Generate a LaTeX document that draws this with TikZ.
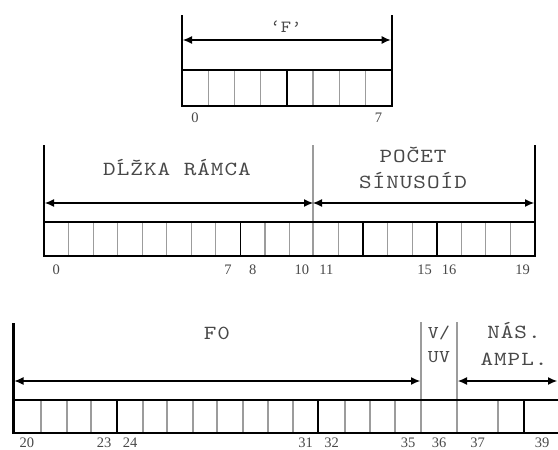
\documentclass[tikz,border=0pt]{standalone}
\usepackage{fontspec}
\usetikzlibrary{arrows.meta}
\newfontfamily\lmtt{lmmono10-regular.otf}[FakeStretch=1.2,LetterSpace=5]
\newfontfamily\lmttsm{lmmono10-regular.otf}[FakeStretch=1.15,LetterSpace=2]
\newfontfamily\numfont{Liberation Serif}
\definecolor{txt}{HTML}{484848}
\definecolor{sep}{HTML}{9C9C9C}
\tikzset{
  rowline/.style={line width=2pt,black},
  cellsep/.style={line width=1.1pt,sep},
  bytesep/.style={line width=1.8pt,black},
  edgeline/.style={line width=2.2pt,black},
  gsep/.style={line width=1.5pt,sep},
  dim/.style={line width=1.1pt,black,{Latex[length=9pt,width=8pt]}-{Latex[length=9pt,width=8pt]}},
  fld/.style={text=txt,inner sep=0pt,anchor=base,font=\lmtt\fontsize{20}{24}\selectfont},
  fldsm/.style={text=txt,inner sep=0pt,anchor=base,font=\lmttsm\fontsize{18}{22}\selectfont},
  num/.style={text=txt,inner sep=0pt,anchor=base,font=\numfont\fontsize{14.5}{15}\selectfont},
}
\begin{document}
\begin{tikzpicture}[x=1pt,y=-1pt]
\useasboundingbox (0,0) rectangle (558,450);
\clip (0,0) rectangle (558,450);
% ---------------- top row ----------------
\foreach \i in {1,2,3,5,6,7} \draw[cellsep] ({182+26.2*\i},70) -- ({182+26.2*\i},106);
\draw[bytesep] (286.8,70) -- (286.8,106);
\draw[rowline] (182,70) -- (391.6,70);
\draw[rowline] (182,106) -- (391.6,106);
\coordinate (tLt) at (182,15); \coordinate (tLb) at (182,107);
\coordinate (tRt) at (391.6,15); \coordinate (tRb) at (391.6,107);
\draw[edgeline] (tLt) -- (tLb);
\draw[edgeline] (tRt) -- (tRb);
\coordinate (tA1) at (183,40); \coordinate (tA2) at (390.6,40);
\draw[dim] (tA1) -- (tA2);
\node[fld,font=\lmttsm\fontsize{17}{20}\selectfont] (tF) at (286,32) {‘F’};
\node[num] (t0) at (195,122) {0};
\node[num] (t7) at (378.5,122) {7};
% ---------------- middle row ----------------
\foreach \i in {1,2,3,4,5,6,7,9,10,12,14,15,17,18,19} \draw[cellsep] ({44+24.55*\i},222) -- ({44+24.55*\i},256);
\foreach \i in {8,13,16} \draw[bytesep] ({44+24.55*\i},222) -- ({44+24.55*\i},256);
\coordinate (mSt) at (313,145); \coordinate (mSb) at (313,256);
\draw[gsep] (mSt) -- (mSb);
\draw[rowline] (44,222) -- (535,222);
\draw[rowline] (44,256) -- (535,256);
\coordinate (mLt) at (44,145); \coordinate (mLb) at (44,257);
\coordinate (mRt) at (535,145); \coordinate (mRb) at (535,257);
\draw[edgeline] (mLt) -- (mLb);
\draw[edgeline] (mRt) -- (mRb);
\coordinate (mA1) at (45,203); \coordinate (mA2) at (313,203); \coordinate (mA3) at (534,203);
\draw[dim] (mA1) -- (mA2);
\draw[dim] (mA2) -- (mA3);
\node[fld] (dl) at (177,175) {DĹŽKA RÁMCA};
\node[fld] (pc) at (413,162) {POČET};
\node[fld] (sn) at (413,188) {SÍNUSOÍD};
\node[num] (m0) at (56.3,274) {0};
\node[num] (m7) at (228.1,274) {7};
\node[num] (m8) at (252.7,274) {8};
\node[num] (m10) at (301.8,274) {10};
\node[num] (m11) at (326.3,274) {11};
\node[num] (m15) at (424.5,274) {15};
\node[num] (m16) at (449.1,274) {16};
\node[num] (m19) at (522.7,274) {19};
% ---------------- bottom row ----------------
\foreach \x in {41,67,91,143,167,193,217,243,268,293,345,370,395,498} \draw[cellsep] (\x,400) -- (\x,433);
\foreach \x in {117,318,524} \draw[bytesep] (\x,400) -- (\x,433);
\coordinate (bS1t) at (421,322); \coordinate (bS1b) at (421,433);
\coordinate (bS2t) at (457,322); \coordinate (bS2b) at (457,433);
\draw[gsep] (bS1t) -- (bS1b);
\draw[gsep] (bS2t) -- (bS2b);
\draw[rowline] (13,400) -- (560,400);
\draw[rowline] (13,433) -- (560,433);
\coordinate (bLt) at (13,323); \coordinate (bLb) at (13,434);
\draw[line width=3pt] (bLt) -- (bLb);
\coordinate (bA1) at (14.5,381); \coordinate (bA2) at (420,381);
\coordinate (bA3) at (458,381); \coordinate (bA4) at (557,381);
\draw[dim] (bA1) -- (bA2);
\draw[dim] (bA3) -- (bA4);
\node[fld] (f0) at (217,339) {F0};
\node[fldsm] (v1) at (439,338) {V/};
\node[fldsm] (v2) at (439,362) {UV};
\node[fld] (n1) at (514,338) {NÁS.};
\node[fld] (n2) at (514,365) {AMPL.};
\node[num] (b20) at (27,447) {20};
\node[num] (b23) at (104,447) {23};
\node[num] (b24) at (130,447) {24};
\node[num] (b31) at (305.5,447) {31};
\node[num] (b32) at (331.5,447) {32};
\node[num] (b35) at (408,447) {35};
\node[num] (b36) at (439,447) {36};
\node[num] (b37) at (477.5,447) {37};
\node[num] (b39) at (542,447) {39};
\end{tikzpicture}
\end{document}
